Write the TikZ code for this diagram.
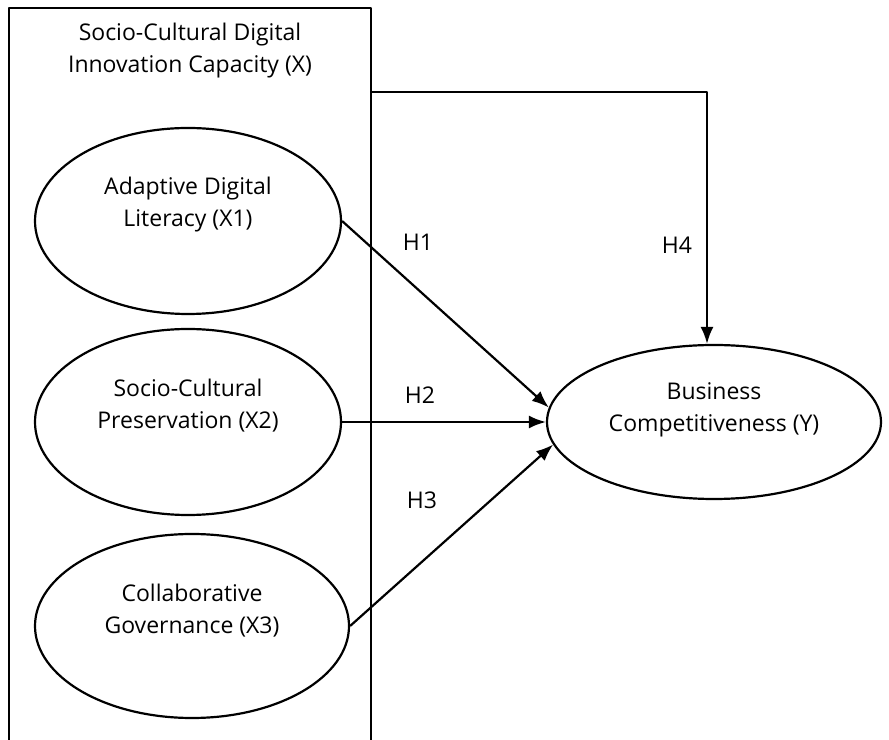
\documentclass[tikz,border=0pt]{standalone}
\usepackage{fontspec}
\setmainfont{Open Sans}
\usepackage{tikz}
\usetikzlibrary{shapes.geometric,arrows.meta}

\begin{document}
\begin{tikzpicture}[>={Latex[length=17bp,width=13bp]},line join=bevel,line width=2.2bp,
  latent/.style={draw,ellipse,inner sep=0pt,minimum width=306bp,minimum height=186bp},
  caption/.style={align=center,font=\fontsize{23bp}{32bp}\selectfont},
  hyp/.style={font=\fontsize{23bp}{26bp}\selectfont}]
%%
\clip (0bp,0bp) rectangle (889bp,740bp);
\node (frame) at (190bp,352bp) [draw,minimum width=362bp,minimum height=760bp,inner sep=0pt] {};
  \node (frametitle) at (190bp,689bp) [caption] {Socio-Cultural Digital\\Innovation Capacity (X)};
  \node (x1) at (188bp,519bp) [latent,label={[caption,yshift=16bp]center:Adaptive Digital\\Literacy (X1)}] {};
  \node (x2) at (188bp,318bp) [latent,label={[caption,yshift=16bp]center:Socio-Cultural\\Preservation (X2)}] {};
  \node (x3) at (192bp,114bp) [latent,minimum width=314bp,minimum height=184bp,label={[caption,yshift=15bp]center:Collaborative\\Governance (X3)}] {};
  \node (y) at (714bp,318bp) [latent,minimum width=334bp,minimum height=154bp,label={[caption,yshift=12bp]center:Business\\Competitiveness (Y)}] {};
  \coordinate (bend) at (707bp,648bp);
  \draw [black,->] (x1.east) -- (y.175);
  \draw [black,->] (x2.east) -- (y.west);
  \draw [black,->] (x3.east) -- (y.188);
  \draw [black,->] (frame.east |- bend) -- (bend) -- (bend |- y.north);
  \node (h1) at (418bp,498bp) [hyp] {H1};
  \node (h2) at (420bp,345bp) [hyp] {H2};
  \node (h3) at (422bp,240bp) [hyp] {H3};
  \node (h4) at (677bp,495bp) [hyp] {H4};
%
\end{tikzpicture}
\end{document}
